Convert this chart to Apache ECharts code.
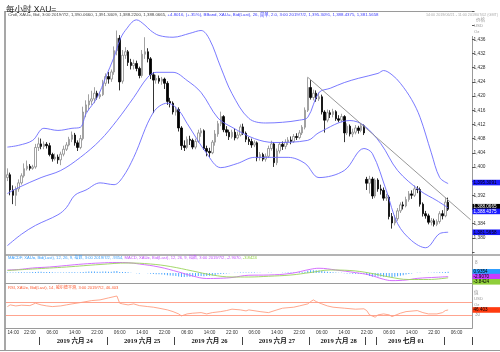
<!DOCTYPE html>
<html><head><meta charset="utf-8">
<script src="https://cdn.jsdelivr.net/npm/echarts@6/dist/echarts.min.js"></script>
<style>html,body{margin:0;padding:0;background:#fff;}#c{width:500px;height:352px;}</style>
</head><body><div id="c"></div>
<script>
// ---------- DATA ----------
const sessions = [
  {date:'2019/06/21', start:14, count:8},
  {date:'2019/06/23', start:22, count:2},
  {date:'2019/06/24', start:0, count:24},
  {date:'2019/06/25', start:0, count:24},
  {date:'2019/06/26', start:0, count:24},
  {date:'2019/06/27', start:0, count:24},
  {date:'2019/06/28', start:0, count:22},
  {date:'2019/06/30', start:22, count:2},
  {date:'2019/07/01', start:0, count:24},
  {date:'2019/07/02', start:0, count:12}
];
const categories = [];
sessions.forEach(s => { for (let k = 0; k < s.count; k++) categories.push(s.date + ' ' + String(s.start + k).padStart(2, '0') + ':00'); });

const open = [1397.0,1397.8,1393.5,1392.0,1393.8,1395.5,1397.5,1399.5,1400.2,1399.6,
1400.0,1405.5,1406.5,1405.8,1406.4,1406.0,1403.5,1402.3,1402.8,1402.0,
1403.6,1405.0,1406.2,1407.8,1409.0,1406.8,1405.5,1408.0,1415.5,1417.5,
1418.6,1419.2,1420.8,1419.8,1420.4,1423.6,1425.5,1424.8,1426.8,1432.8,
1436.3,1424.2,1431.5,1432.5,1429.5,1428.6,1429.2,1427.8,1425.8,1431.8,
1432.5,1430.5,1426.0,1424.5,1425.0,1424.2,1424.8,1423.6,1418.5,1418.0,
1415.5,1416.2,1411.0,1406.0,1405.5,1407.8,1407.5,1405.6,1407.2,1409.6,
1410.2,1405.2,1404.4,1404.0,1407.0,1409.3,1412.2,1414.2,1410.5,1409.8,
1408.5,1409.8,1408.2,1409.0,1411.3,1409.5,1407.8,1407.2,1406.2,1406.8,
1402.6,1403.5,1402.2,1403.0,1405.2,1406.5,1401.2,1404.5,1406.4,1405.8,
1407.0,1407.6,1407.2,1408.6,1408.3,1409.6,1411.2,1416.0,1422.4,1419.6,
1420.8,1419.2,1419.8,1415.5,1413.2,1415.3,1414.8,1415.6,1413.6,1413.2,
1414.2,1409.6,1411.5,1409.3,1409.8,1411.0,1410.3,1411.6,1396.5,1395.4,
1396.6,1391.8,1396.3,1393.8,1393.4,1391.2,1391.5,1386.0,1384.2,1385.4,
1387.6,1389.3,1389.0,1390.8,1392.4,1392.0,1393.8,1393.6,1389.5,1386.8,
1386.2,1384.4,1384.8,1383.8,1384.6,1386.8,1386.2,1390.066];
const close = [1397.8,1393.5,1392.0,1393.8,1395.5,1397.5,1399.5,1400.2,1399.6,1400.0,
1405.5,1406.5,1405.8,1406.4,1406.0,1403.5,1402.3,1402.8,1402.0,1403.6,
1405.0,1406.2,1407.8,1409.0,1406.8,1405.5,1408.0,1415.5,1417.5,1418.6,
1419.2,1420.8,1419.8,1420.4,1423.6,1425.5,1424.8,1426.8,1432.8,1436.3,
1424.0,1431.5,1432.5,1429.5,1428.6,1429.2,1427.8,1425.8,1431.8,1432.5,
1430.5,1426.0,1424.5,1425.0,1424.2,1424.8,1423.6,1418.5,1418.0,1415.5,
1416.2,1411.0,1406.0,1405.5,1407.8,1407.5,1405.6,1407.2,1409.6,1410.2,
1405.2,1404.4,1404.0,1407.0,1409.3,1412.2,1414.2,1410.5,1409.8,1408.5,
1409.8,1408.2,1409.0,1411.3,1409.5,1407.8,1407.2,1406.2,1406.8,1402.6,
1403.5,1402.2,1403.0,1405.2,1406.5,1401.2,1404.5,1406.4,1405.8,1407.0,
1407.6,1407.2,1408.6,1408.3,1409.6,1411.2,1416.0,1422.4,1419.6,1420.8,
1419.2,1419.8,1415.5,1413.2,1415.3,1414.8,1415.6,1413.6,1413.2,1414.2,
1409.6,1411.5,1409.3,1409.8,1411.0,1410.3,1411.6,1409.6,1395.4,1396.6,
1391.8,1396.3,1393.8,1393.4,1391.2,1391.5,1386.0,1384.2,1385.4,1387.6,
1389.3,1389.0,1390.8,1392.4,1392.0,1393.8,1393.6,1389.5,1386.8,1386.2,
1384.4,1384.8,1383.8,1384.6,1386.8,1386.2,1390.07,1388.0665];
const low = [1396.0,1392.0,1389.5,1389.0,1393.0,1395.0,1397.0,1399.0,1399.0,1399.2,
1399.5,1404.5,1405.0,1405.0,1405.2,1403.0,1401.5,1401.8,1400.9,1400.5,
1403.0,1404.5,1405.8,1407.0,1406.0,1404.5,1405.0,1407.5,1414.0,1416.0,
1417.5,1418.0,1419.0,1419.2,1420.0,1422.8,1423.5,1424.0,1426.0,1431.5,
1421.6,1423.5,1430.5,1428.5,1427.5,1427.5,1427.0,1425.0,1425.2,1430.5,
1429.5,1424.8,1415.2,1423.5,1423.5,1423.2,1422.0,1417.5,1416.8,1414.8,
1414.5,1410.0,1404.8,1404.5,1405.0,1406.2,1405.0,1405.0,1406.8,1408.5,
1404.8,1403.0,1402.8,1403.6,1406.0,1408.5,1411.5,1409.8,1408.7,1407.6,
1408.0,1407.5,1407.8,1408.6,1409.0,1407.0,1406.2,1405.4,1405.6,1401.6,
1401.8,1401.6,1401.5,1402.5,1404.6,1400.0,1400.5,1403.8,1404.8,1405.0,
1406.2,1406.4,1406.8,1407.6,1407.8,1409.0,1410.6,1415.5,1419.0,1418.8,
1418.4,1418.6,1414.8,1409.7,1412.6,1413.8,1414.0,1413.0,1412.6,1412.6,
1407.0,1409.0,1408.6,1408.4,1409.2,1409.4,1409.8,1409.0,1393.5,1392.5,
1391.0,1391.2,1393.0,1392.2,1390.5,1390.4,1385.2,1382.6,1383.5,1384.8,
1387.0,1388.0,1388.6,1390.2,1391.0,1391.5,1392.6,1388.8,1386.0,1385.4,
1383.8,1383.5,1383.2,1383.3,1384.0,1385.2,1385.8,1387.6];
const high = [1399.6,1398.4,1394.8,1394.5,1396.5,1398.2,1401.0,1401.8,1400.8,1400.6,
1406.5,1408.3,1408.0,1407.2,1407.0,1406.8,1404.0,1403.8,1403.5,1404.3,
1406.0,1407.0,1408.5,1410.0,1409.6,1407.5,1409.0,1417.0,1418.8,1420.5,
1421.5,1422.5,1421.5,1421.2,1424.6,1426.4,1426.8,1427.5,1434.0,1438.5,
1437.2,1433.0,1433.8,1433.0,1430.5,1430.3,1430.0,1428.3,1433.0,1436.6,
1433.5,1431.0,1426.8,1426.0,1425.8,1425.4,1425.2,1424.2,1419.5,1418.5,
1417.0,1416.8,1411.5,1407.5,1408.6,1408.8,1408.0,1408.0,1410.5,1411.0,
1410.6,1406.0,1405.4,1407.6,1410.4,1413.0,1415.6,1414.6,1411.5,1410.5,
1410.5,1410.8,1410.0,1412.0,1412.2,1410.0,1408.5,1408.0,1407.5,1407.2,
1404.2,1404.0,1403.8,1406.0,1407.4,1407.0,1405.2,1407.0,1407.2,1407.8,
1408.4,1408.6,1409.3,1409.5,1410.4,1411.8,1416.8,1425.3,1424.5,1421.8,
1421.6,1421.0,1420.4,1416.0,1416.2,1416.0,1416.4,1416.0,1414.6,1415.0,
1414.6,1412.3,1412.0,1410.8,1411.8,1411.6,1412.3,1412.0,1397.2,1397.5,
1397.2,1396.8,1396.8,1395.0,1394.2,1392.4,1392.0,1387.0,1386.4,1388.4,
1390.0,1390.2,1391.6,1393.2,1393.4,1394.8,1394.6,1394.2,1390.0,1387.6,
1386.8,1385.6,1385.4,1385.2,1387.5,1387.8,1391.4,1391.3409];

const upperBand = [[0,1405.6],[4,1406.1],[9,1407.5],[13,1410.9],[18,1410.3],[23,1410.9],[26,1411.2],[28,1415],[32,1419.6],[35,1425.3],[38,1431],[40,1435.7],[42,1438.5],[46,1441.5],[49,1440],[51,1438.5],[54,1437.1],[59,1436.6],[65,1437.7],[69,1438.5],[72,1436],[76,1428.1],[80,1420.7],[86,1413.7],[92,1412.4],[98,1412.6],[104,1413.2],[107,1414],[111,1421],[115,1422.2],[120,1423.8],[125,1425],[132,1426.4],[134,1427.2],[137,1426],[140,1423.6],[144,1419],[147,1414],[151,1404],[154,1397],[157,1395.3091]];
const middleBand = [[0,1392.5],[4,1394.2],[12,1397],[19,1399],[26,1402.7],[33,1407.5],[39,1413.1],[45,1419.6],[50,1425.3],[53,1426.7],[59,1426.7],[64,1424.4],[69,1421],[75,1413.8],[80,1411.2],[88,1408],[95,1406.9],[107,1407.5],[111,1409.7],[122,1413.1],[127,1411.7],[133,1406.6],[139,1399],[147,1393.3],[153,1390.5],[157,1388.4375]];
const lowerBand = [[0,1377.8],[5,1381],[10,1383.5],[18,1386.5],[21,1388.5],[24,1392],[28,1393.5],[33,1395.5],[38,1395],[41,1397],[45,1402.7],[52,1415.4],[57,1418],[61,1416],[64,1412.3],[71,1403.8],[76,1399.8],[82,1401],[88,1402.7],[100,1402.7],[106,1401],[111,1397],[120,1399],[127,1405.2],[130,1403.8],[135,1393.3],[139,1384],[144,1379.2],[149,1377.2],[154,1381.2],[157,1381.5658]];
const trendLine = [[107,1425.3],[165,1385.1]];

const macdLine = [[0,2.4],[4,2.8],[9,4],[15,4.8],[21,6],[27,7.2],[33,8],[39,8.4],[43,8.2],[47,7.2],[54,4.8],[61,0.8],[66,-2.4],[71,-4.4],[76,-4.2],[80,-3.6],[86,-1.8],[93,-1.6],[101,-0.3],[108,3],[111,3.8],[117,2.4],[124,0.3],[129,-1.6],[134,-5],[137,-6.1],[142,-5.6],[146,-4.3],[153,-3.4],[157,-2.907]];
const signalLine = [[0,2],[9,3.2],[21,4.8],[33,6.8],[43,8],[51,7.2],[58,5.2],[66,1.6],[73,-1.6],[80,-3.2],[86,-3.2],[93,-2.6],[101,-1.6],[108,0.4],[115,2.4],[122,2],[129,0],[136,-3.2],[143,-5.2],[150,-5.2],[157,-3.8424]];
const macdHist = [0.4,0.5,0.5,0.5,0.6,0.6,0.7,0.7,0.7,0.8,
0.9,1.0,1.0,0.9,0.9,0.8,0.6,0.5,0.4,0.4,
0.5,0.5,0.6,0.7,0.6,0.5,0.6,0.9,1.1,1.2,
1.2,1.2,1.1,1.1,1.2,1.2,1.1,1.1,1.4,1.6,
0.8,0.9,0.9,0.6,0.3,0.1,-0.1,-0.3,0.0,0.1,
-0.1,-0.5,-0.8,-0.9,-1.0,-1.1,-1.3,-1.7,-1.9,-2.2,
-2.3,-2.7,-3.1,-3.1,-3.0,-2.9,-2.8,-2.6,-2.4,-2.4,
-2.5,-2.4,-2.2,-1.9,-1.5,-1.0,-0.7,-0.5,-0.3,-0.1,
0.1,0.2,0.3,0.5,0.5,0.5,0.5,0.5,0.5,0.2,
0.2,0.1,0.1,0.2,0.3,0.0,0.0,0.1,0.2,0.3,
0.4,0.4,0.5,0.5,0.6,0.7,1.1,1.8,2.2,2.3,
2.3,2.1,1.7,1.3,1.1,0.9,0.7,0.5,0.3,0.2,
-0.2,-0.3,-0.4,-0.5,-0.5,-0.5,-0.5,-0.6,-1.6,-2.3,
-2.9,-2.7,-2.8,-2.8,-2.9,-2.9,-3.2,-3.3,-3.0,-2.6,
-2.2,-1.7,-1.2,-0.7,-0.3,0.1,0.3,0.2,0.1,0.1,
0.2,0.3,0.4,0.5,0.6,0.7,0.9,0.9354];
const rsiLine = [[0,56.9],[1,62.2],[3,59],[5,61.2],[8,60],[10,67.5],[12,62.2],[14,59],[16,56.9],[19,59],[21,62.2],[23,65.3],[26,69.4],[28,72.5],[30,75.6],[33,77.8],[36,84],[39,90],[40,67.5],[41,65.3],[43,62.2],[45,65.3],[47,60],[50,56.9],[52,55],[54,51.9],[57,46.6],[59,41.2],[61,34],[62,27.8],[64,34],[66,36.2],[69,38.1],[71,34],[73,38.1],[76,41.2],[78,44.4],[80,48.8],[83,46.6],[85,43.4],[86,46.6],[90,41.2],[93,38.1],[96,46.6],[98,51.9],[102,55],[104,59],[107,65.3],[108,72.5],[109,77.8],[110,72.5],[112,65.3],[114,59],[116,55],[120,51.9],[124,48.8],[127,50],[128,44.4],[129,31],[131,23.8],[132,31],[134,34],[136,31],[137,25.6],[140,36.2],[142,41.2],[146,44.4],[148,38.1],[150,34],[153,34],[155,38.1],[156,44.4],[157,46.403]];
const rsiLevels = [70, 30];

const priceTicksHidden = [1444, 1440, 1396, 1388, 1376];
const dateSeparators = [12, 36, 60, 84, 108, 128, 132, 156];
const dateLabels = {24:'2019 六月 24', 48:'2019 六月 25', 72:'2019 六月 26', 96:'2019 六月 27', 118:'2019 六月 28', 142:'2019 七月 01'};

const lastValues = {close:1388.0665, upper:1395.3091, middle:1388.4375, lower:1381.5658, hist:0.9354, macd:-2.9070, signal:-3.8424, rsi:46.403};

// ---------- CHART ----------
const F = "'Liberation Sans','Noto Sans CJK SC',sans-serif";
const candles = open.map((o, i) => [o, close[i], low[i], high[i]]);
const fmt = v => v.toLocaleString('en-US', {minimumFractionDigits: 4, maximumFractionDigits: 4});

function boxLine(value, text, bg, fg, dy) {
  return {
    yAxis: value,
    label: {show: true, position: 'end', formatter: text, backgroundColor: bg, color: fg,
      fontSize: 4.6, fontFamily: F, padding: [0.6, 1, 0.4, 1], width: 26, distance: 0.5, offset: [0, dy || 0]},
    lineStyle: {color: 'rgba(0,0,0,0)', width: 1}
  };
}
const ML = {symbol: 'none', silent: true, animation: false};

const chart = echarts.init(document.getElementById('c'), null, {renderer: 'canvas'});
const xBase = {type: 'category', data: categories, boundaryGap: true};
chart.setOption({
  animation: false,
  backgroundColor: '#fff',
  title: {text: '每小时 XAU=', left: 1, top: 0.5, textStyle: {fontSize: 8.5, fontWeight: 'normal', color: '#222', fontFamily: F}},
  grid: [
    {left: 6, right: 28, top: 11, height: 241},
    {left: 6, right: 28, top: 256, height: 27},
    {left: 6, right: 28, top: 284, height: 44}
  ],
  xAxis: [
    Object.assign({gridIndex: 0, show: false}, xBase),
    Object.assign({gridIndex: 1, show: false}, xBase),
    Object.assign({gridIndex: 2, position: 'bottom',
      axisLine: {show: false}, axisTick: {show: false},
      axisLabel: {interval: (i, v) => parseInt(v.slice(11, 13)) % 8 === 6, formatter: v => v.slice(11),
        fontSize: 4.7, color: '#333', fontFamily: F, margin: 2.5, alignMinLabel: 'left'}}, xBase),
    Object.assign({gridIndex: 2, position: 'bottom', offset: 9,
      axisLine: {show: false},
      axisTick: {show: true, interval: i => dateSeparators.includes(i), length: 8, lineStyle: {color: '#444', width: 1}},
      axisLabel: {interval: i => dateLabels[i] !== undefined, formatter: (v, i) => dateLabels[i] || '',
        fontSize: 6.6, fontWeight: 'bold', color: '#111', fontFamily: "'Liberation Serif','Noto Sans CJK SC',serif", margin: 1}}, xBase)
  ],
  yAxis: [
    {gridIndex: 0, type: 'value', position: 'right', min: 1376, max: 1444, interval: 4,
      axisLine: {show: false}, splitLine: {show: false},
      axisTick: {show: true, length: 2.5, lineStyle: {color: '#555'}},
      axisLabel: {formatter: v => priceTicksHidden.includes(v) ? '' : v.toLocaleString('en-US'), fontSize: 4.8, color: '#333', fontFamily: F, margin: 1.5}},
    {gridIndex: 1, type: 'value', position: 'right', min: -8, max: 13.6, interval: 8,
      axisLine: {show: false}, splitLine: {show: false}, axisTick: {show: false},
      axisLabel: {formatter: v => v === 8 ? '8' : '', fontSize: 4.6, color: '#999', fontFamily: F, margin: 3}},
    {gridIndex: 2, type: 'value', position: 'right', min: -10, max: 127.5, interval: 10,
      axisLine: {show: false}, splitLine: {show: false}, axisTick: {show: false},
      axisLabel: {formatter: v => v === 30 ? '30' : '', fontSize: 4.6, color: '#999', fontFamily: F, margin: 3}}
  ],
  series: [
    {type: 'candlestick', xAxisIndex: 0, yAxisIndex: 0, data: candles, barWidth: 2,
      itemStyle: {color: '#ffffff', color0: '#000000', borderColor: '#8a8a8a', borderColor0: '#000000', borderWidth: 0.8},
      markLine: Object.assign({}, ML, {data: [
        boxLine(lastValues.close, fmt(lastValues.close), '#000', '#fff', -2.5),
        [{coord: [trendLine[0][0], trendLine[0][1]], lineStyle: {color: '#8c8c8c', width: 0.9, type: 'solid'}, label: {show: false}},
         {coord: [trendLine[1][0], trendLine[1][1]]}]
      ]})},
    {type: 'line', xAxisIndex: 0, yAxisIndex: 0, data: upperBand, smooth: 0.35, symbol: 'none', lineStyle: {color: '#6b6bff', width: 0.9},
      markLine: Object.assign({}, ML, {data: [boxLine(lastValues.upper, fmt(lastValues.upper), '#1c1cff', '#000', -1)]})},
    {type: 'line', xAxisIndex: 0, yAxisIndex: 0, data: middleBand, smooth: 0.35, symbol: 'none', lineStyle: {color: '#6b6bff', width: 0.9},
      markLine: Object.assign({}, ML, {data: [boxLine(lastValues.middle, fmt(lastValues.middle), '#1c1cff', '#fff', 3.5)]})},
    {type: 'line', xAxisIndex: 0, yAxisIndex: 0, data: lowerBand, smooth: 0.35, symbol: 'none', lineStyle: {color: '#6b6bff', width: 0.9},
      markLine: Object.assign({}, ML, {data: [boxLine(lastValues.lower, fmt(lastValues.lower), '#1c1cff', '#000', 0)]})},
    {type: 'bar', xAxisIndex: 1, yAxisIndex: 1, data: macdHist, barWidth: 0.8, itemStyle: {color: '#4aa6ff'},
      markLine: Object.assign({}, ML, {data: [boxLine(lastValues.hist, '0.9354', '#2a9cff', '#000', 0)]})},
    {type: 'line', xAxisIndex: 1, yAxisIndex: 1, data: macdLine, smooth: 0.4, symbol: 'none', lineStyle: {color: '#d060ff', width: 0.9},
      markLine: Object.assign({}, ML, {data: [boxLine(lastValues.macd, '-2.9070', '#c83cff', '#000', 0)]})},
    {type: 'line', xAxisIndex: 1, yAxisIndex: 1, data: signalLine, smooth: 0.4, symbol: 'none', lineStyle: {color: '#9ad45a', width: 0.9},
      markLine: Object.assign({}, ML, {data: [boxLine(lastValues.signal, '-3.8424', '#8fce3a', '#000', 4)]})},
    {type: 'line', xAxisIndex: 2, yAxisIndex: 2, data: rsiLine, symbol: 'none', lineStyle: {color: '#ff9070', width: 0.8},
      markLine: Object.assign({}, ML, {data: rsiLevels.map(v => ({yAxis: v, lineStyle: {color: '#ff9a82', width: 0.9, type: 'solid'}, label: {show: false}}))
        .concat([boxLine(lastValues.rsi, '46.403', '#ff3b10', '#000', 0)])})}
  ],
  graphic: [
    {type: 'line', shape: {x1: 5, y1: 11.5, x2: 472, y2: 11.5}, style: {stroke: '#9a9a9a', lineWidth: 1}},
    {type: 'line', shape: {x1: 5, y1: 11, x2: 5, y2: 350}, style: {stroke: '#8a8a8a', lineWidth: 1.5}},
    {type: 'line', shape: {x1: 472.5, y1: 36, x2: 472.5, y2: 328.5}, style: {stroke: '#9a9a9a', lineWidth: 1}},
    {type: 'line', shape: {x1: 5, y1: 255, x2: 500, y2: 255}, style: {stroke: '#9a9a9a', lineWidth: 1.5}},
    {type: 'line', shape: {x1: 5, y1: 283.5, x2: 500, y2: 283.5}, style: {stroke: '#9a9a9a', lineWidth: 1}},
    {type: 'line', shape: {x1: 5, y1: 328.5, x2: 472.5, y2: 328.5}, style: {stroke: '#9a9a9a', lineWidth: 1}},
    {type: 'line', shape: {x1: 0, y1: 350.5, x2: 500, y2: 350.5}, style: {stroke: '#9a9a9a', lineWidth: 1}},
    {type: 'text', x: 8, y: 13, style: {text: '{k|Cndl, XAU=, Bid, 3:00 2019/7/2, 1,390.0660, 1,391.3409, 1,388.2200, 1,388.0665, }{b|+4.8016, (+.35%), BBand, XAU=, Bid(Last), 26, 简单, 2.0, 3:00 2019/7/2, 1,395.3091, 1,388.4375, 1,381.5658}',
      rich: {k: {fill: '#444', fontSize: 4.35, fontFamily: F}, b: {fill: '#3a3aff', fontSize: 4.35, fontFamily: F}}}},
    {type: 'text', x: 498, y: 13.5, style: {text: '14:00 2019/06/21 - 11:00 2019/07/02 (GMT)', fill: '#aaa', fontSize: 3.7, fontFamily: F, align: 'right'}},
    {type: 'text', x: 476, y: 18, style: {text: '价格', fill: '#999', fontSize: 4.5, fontFamily: F}},
    {type: 'text', x: 474, y: 24, style: {text: 'USD', fill: '#999', fontSize: 4.3, fontFamily: F}},
    {type: 'text', x: 474, y: 30, style: {text: 'Oz', fill: '#999', fontSize: 4.3, fontFamily: F}},
    {type: 'text', x: 474, y: 291, style: {text: '值', fill: '#999', fontSize: 4.5, fontFamily: F}},
    {type: 'text', x: 474, y: 297, style: {text: 'USD', fill: '#999', fontSize: 4.3, fontFamily: F}},
    {type: 'text', x: 474, y: 303, style: {text: 'Oz', fill: '#999', fontSize: 4.3, fontFamily: F}},
    {type: 'text', x: 8, y: 256, style: {text: '{a|MACDF, XAU=, Bid(Last), 12, 26, 9, 指数, 3:00 2019/7/2, .9354, }{m|MACD, XAU=, Bid(Last), 12, 26, 9, 指数, 3:00 2019/7/2, -2.9070, }{g|-3.8424}',
      rich: {a: {fill: '#3aa0ff', fontSize: 4.1, fontFamily: F}, m: {fill: '#c050ff', fontSize: 4.1, fontFamily: F}, g: {fill: '#88cc33', fontSize: 4.1, fontFamily: F}}}},
    {type: 'text', x: 8, y: 285.5, style: {text: 'RSI, XAU=, Bid(Last), 14, 威尔德平滑, 3:00 2019/7/2, 46.403', fill: '#ff5a30', fontSize: 4.1, fontFamily: F}}
  ]
});
</script></body></html>
